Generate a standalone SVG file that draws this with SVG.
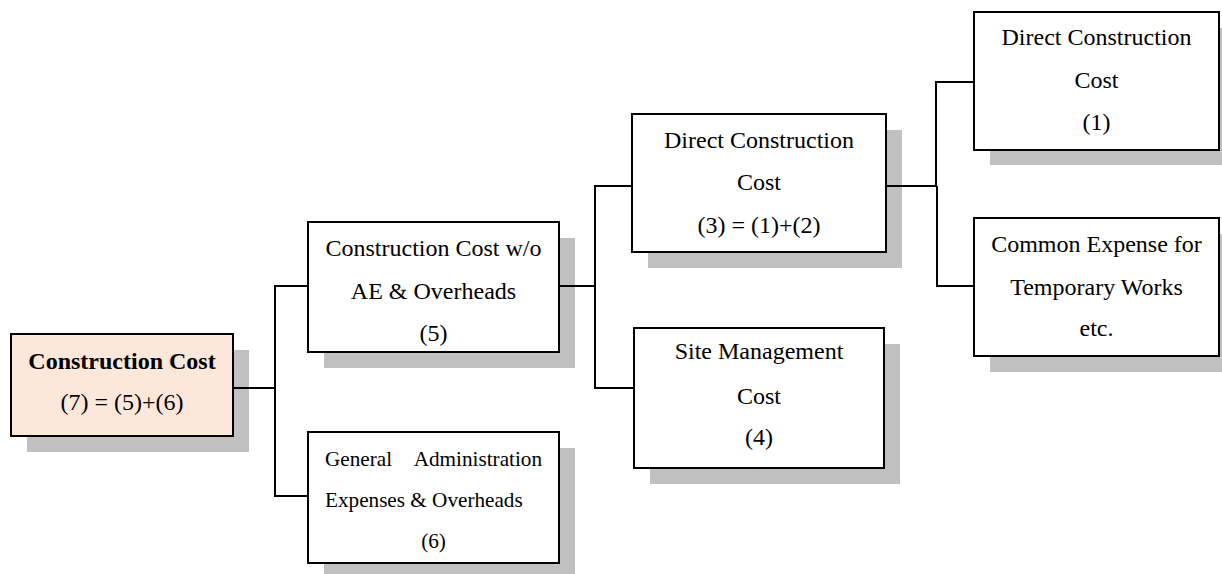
<svg xmlns="http://www.w3.org/2000/svg" width="1222" height="574" viewBox="0 0 1222 574">
  <style>
    .shadow { fill: #c0c0c0; }
    .box { fill: #ffffff; stroke: #000000; stroke-width: 2; }
    .root { fill: #fce8da; }
    .lbl { font-family: "Liberation Serif", "Times New Roman", serif; font-size: 24px; fill: #000000; text-anchor: middle; }
    .small { font-size: 21.2px; }
    .bold { font-weight: bold; }
    .wire { fill: none; stroke: #000000; stroke-width: 2; }
  </style>

  <!-- Total construction cost -->
  <g id="node-7">
    <rect class="shadow" x="27" y="350" width="222" height="102"/>
    <rect class="box root" x="11" y="334" width="222" height="102"/>
    <text class="lbl bold" x="122" y="369">Construction Cost</text>
    <text class="lbl" x="122" y="410">(7) = (5)+(6)</text>
  </g>

  <!-- Cost without AE & overheads -->
  <g id="node-5">
    <rect class="shadow" x="324" y="238" width="251" height="130"/>
    <rect class="box" x="308" y="222" width="251" height="130"/>
    <text class="lbl" x="433.5" y="256">Construction Cost w/o</text>
    <text class="lbl" x="433.5" y="299">AE &amp; Overheads</text>
    <text class="lbl" x="433.5" y="341">(5)</text>
  </g>

  <!-- General administration expenses -->
  <g id="node-6">
    <rect class="shadow" x="324" y="448" width="251" height="131"/>
    <rect class="box" x="308" y="432" width="251" height="131"/>
    <text class="lbl small" x="325" y="466" style="text-anchor:start">General</text>
    <text class="lbl small" x="542" y="466" style="text-anchor:end">Administration</text>
    <text class="lbl small" x="325" y="507" style="text-anchor:start">Expenses &amp; Overheads</text>
    <text class="lbl small" x="433.5" y="548">(6)</text>
  </g>

  <!-- Direct construction cost subtotal -->
  <g id="node-3">
    <rect class="shadow" x="648" y="130" width="254" height="138"/>
    <rect class="box" x="632" y="114" width="254" height="138"/>
    <text class="lbl" x="759" y="148">Direct Construction</text>
    <text class="lbl" x="759" y="190">Cost</text>
    <text class="lbl" x="759" y="233">(3) = (1)+(2)</text>
  </g>

  <!-- Site management cost -->
  <g id="node-4">
    <rect class="shadow" x="650" y="344" width="250" height="140"/>
    <rect class="box" x="634" y="328" width="250" height="140"/>
    <text class="lbl" x="759" y="359">Site Management</text>
    <text class="lbl" x="759" y="404">Cost</text>
    <text class="lbl" x="759" y="445">(4)</text>
  </g>

  <!-- Direct construction cost -->
  <g id="node-1">
    <rect class="shadow" x="990" y="28" width="245" height="137"/>
    <rect class="box" x="974" y="12" width="245" height="138"/>
    <text class="lbl" x="1096.5" y="45">Direct Construction</text>
    <text class="lbl" x="1096.5" y="88">Cost</text>
    <text class="lbl" x="1096.5" y="130">(1)</text>
  </g>

  <!-- Common temporary works expense -->
  <g id="node-2">
    <rect class="shadow" x="990" y="234" width="245" height="138"/>
    <rect class="box" x="974" y="218" width="245" height="138"/>
    <text class="lbl" x="1096.5" y="252">Common Expense for</text>
    <text class="lbl" x="1096.5" y="295">Temporary Works</text>
    <text class="lbl" x="1096.5" y="336">etc.</text>
  </g>

  <!-- Tree connectors -->
  <g id="connectors">
    <path class="wire" d="M233 388 H275"/>
    <path class="wire" d="M308 286 H275 V496 H308"/>
    <path class="wire" d="M559 286 H595"/>
    <path class="wire" d="M632 186 H595 V388 H634"/>
    <path class="wire" d="M886 186 H937"/>
    <path class="wire" d="M974 82 H936 V186"/>
    <path class="wire" d="M937 186 V286 H974"/>
  </g>
</svg>
